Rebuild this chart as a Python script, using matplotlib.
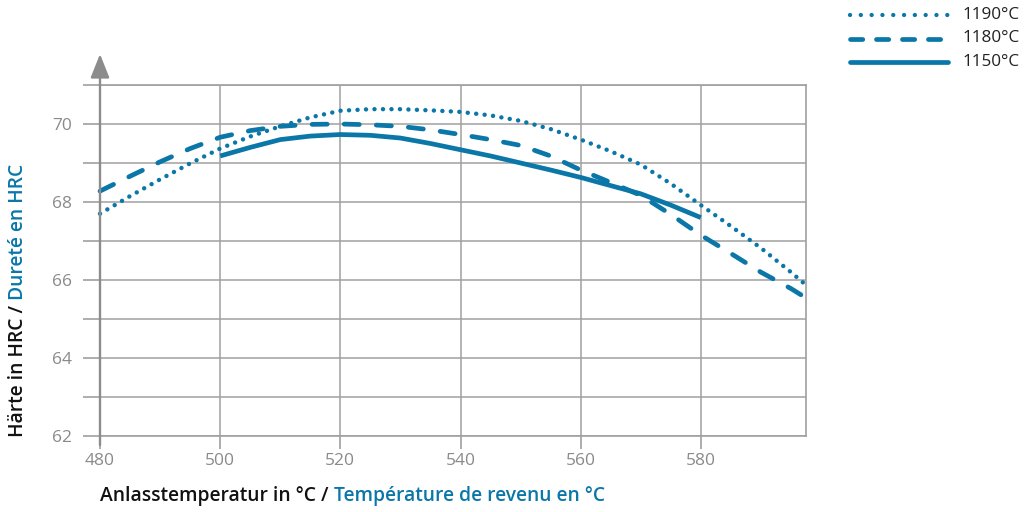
import matplotlib
matplotlib.use("Agg")
import matplotlib.pyplot as plt
from matplotlib.lines import Line2D
from matplotlib.ticker import FixedLocator

plt.rcParams['font.family'] = ['Open Sans', 'DejaVu Sans']

# ---- data ----
temp_1190 = [480, 485, 490, 495, 500, 505, 510, 515, 520, 525, 530, 535, 540, 545,
             550, 555, 560, 565, 570, 575, 580, 585, 590, 595, 597.5]
hrc_1190 = [67.70, 68.15, 68.58, 68.99, 69.37, 69.68, 69.94, 70.17, 70.34, 70.38, 70.38,
            70.35, 70.31, 70.22, 70.08, 69.87, 69.60, 69.30, 68.96, 68.47, 67.92, 67.38,
            66.82, 66.20, 65.87]
temp_1180 = [480, 485, 490, 495, 500, 505, 510, 515, 520, 525, 530, 535, 540, 545,
             550, 555, 560, 565, 570, 575, 580, 585, 590, 595, 597.5]
hrc_1180 = [68.28, 68.66, 69.03, 69.37, 69.66, 69.83, 69.94, 69.99, 70.00, 69.98, 69.94,
            69.85, 69.73, 69.60, 69.45, 69.18, 68.82, 68.50, 68.17, 67.68, 67.15, 66.68,
            66.20, 65.78, 65.54]
temp_1150 = [500, 505, 510, 515, 520, 525, 530, 535, 540, 545, 550, 555, 560, 565,
             570, 575, 580]
hrc_1150 = [69.18, 69.40, 69.60, 69.69, 69.73, 69.71, 69.64, 69.50, 69.34, 69.18, 69.00,
            68.82, 68.63, 68.42, 68.21, 67.92, 67.60]
series_labels = ['1190°C', '1180°C', '1150°C']
x_ticks = [480, 500, 520, 540, 560, 580]
y_ticks = [62, 64, 66, 68, 70]
y_minor = [63, 65, 67, 69, 71]

BLUE = '#0a77a8'
GRID = '#a0a0a0'
TICKTXT = '#8a8a8a'

W, H = 1026, 512
fig = plt.figure(figsize=(W / 100, H / 100), dpi=100)
L, R, B, T = 100, 806, 436, 85
ax = fig.add_axes([L / W, 1 - B / H, (R - L) / W, (B - T) / H])
ax.set_xlim(480, 597.5)
ax.set_ylim(62, 71)

DOT = dict(lw=3.2, linestyle=(0, (0.01, 1.9)), dash_capstyle='round')
DASH = dict(lw=3.4, linestyle=(0, (3.2, 3.6)), dash_capstyle='round')
SOLID = dict(lw=3.4, linestyle='-', solid_capstyle='butt')

ax.plot(temp_1190, hrc_1190, color=BLUE, clip_on=False, zorder=3, **DOT)
ax.plot(temp_1180, hrc_1180, color=BLUE, clip_on=False, zorder=3, **DASH)
ax.plot(temp_1150, hrc_1150, color=BLUE, zorder=3, **SOLID)

# grid
ax.xaxis.set_major_locator(FixedLocator(x_ticks))
ax.yaxis.set_major_locator(FixedLocator(y_ticks))
ax.yaxis.set_minor_locator(FixedLocator(y_minor))
ax.grid(True, which='both', color=GRID, lw=1.1, zorder=1)
ax.xaxis.grid(False, which='minor')
for s in ['top', 'right', 'bottom']:
    ax.spines[s].set_color(GRID)
    ax.spines[s].set_linewidth(1.2)
ax.spines['left'].set_visible(False)
ax.tick_params(axis='both', which='both', length=12, width=1.2, color=GRID,
               labelcolor=TICKTXT, labelsize=12.5)
ax.tick_params(axis='y', which='both', pad=8)
ax.tick_params(axis='x', which='both', length=9, pad=3)

# arrow y axis
ax.annotate('', xy=(0, 1.088), xytext=(0, -0.026), xycoords='axes fraction',
            textcoords='axes fraction',
            arrowprops=dict(arrowstyle='-|>,head_length=1.45,head_width=0.58',
                            color='#8c8c8c', lw=1.7, shrinkA=0, shrinkB=0),
            annotation_clip=False, zorder=4)

# axis labels (two-colour)
fig.canvas.draw()
r = fig.canvas.get_renderer()
LBL = dict(fontsize=13.9, fontweight='semibold')
t1 = fig.text(100 / W, 1 - 496 / H, 'Anlasstemperatur in °C / ', color='#111111',
              ha='left', va='center', **LBL)
bb = t1.get_window_extent(r)
fig.text(bb.x1 / W, 1 - 496 / H, 'Température de revenu en °C', color=BLUE,
         ha='left', va='center', **LBL)

t2 = fig.text(18 / W, 1 - 437 / H, 'Härte in HRC / ', color='#111111', rotation=90,
              ha='center', va='bottom', **LBL)
bb2 = t2.get_window_extent(r)
fig.text(18 / W, bb2.y1 / H, 'Dureté en HRC', color=BLUE, rotation=90,
         ha='center', va='bottom', **LBL)

# legend (manual, figure coordinates)
leg_styles = [dict(lw=3.1, linestyle=(0, (0.01, 2.5)), dash_capstyle='round'),
              dict(lw=3.4, linestyle=(0, (2.6, 2.9)), dash_capstyle='round'),
              dict(lw=3.4, linestyle='-', solid_capstyle='round')]
for i, (lab, st) in enumerate(zip(series_labels, leg_styles)):
    yp = 1 - (15 + 23.5 * i) / H
    fig.add_artist(Line2D([850 / W, 948 / W], [yp, yp], color=BLUE,
                          transform=fig.transFigure, **st))
    fig.text(963 / W, yp, lab, color='#222222', fontsize=12.3, ha='left', va='center')

fig.savefig('out.png', dpi=100)
